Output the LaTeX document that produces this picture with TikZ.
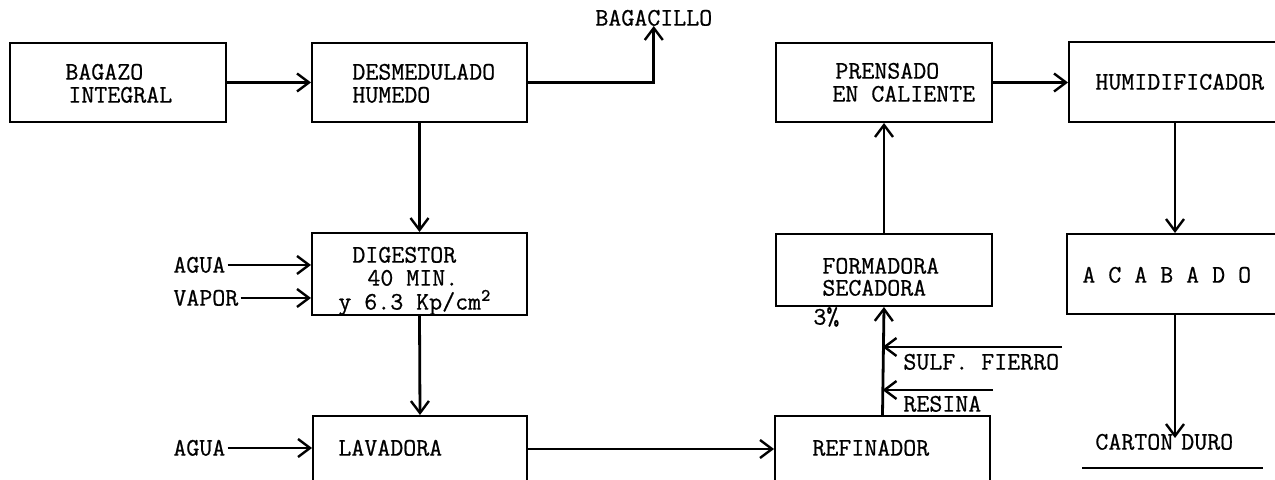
\documentclass[tikz,border=0pt]{standalone}
\usepackage{fontspec}
\newfontfamily\twfont{Latin Modern Mono}[FakeBold=0.7]
\usetikzlibrary{arrows.meta}
\begin{document}
\begin{tikzpicture}[x=0.5pt,y=-0.5pt,
  box/.style={draw,line width=1pt,inner sep=0pt},
  conn/.style={line width=1.4pt,-{Straight Barb[length=6pt,width=9pt,line width=1.2pt]}},
  plain/.style={line width=1.4pt},
  txt/.style={inner sep=0pt,anchor=west,text height=7.6pt,text depth=0pt,
    font=\fontsize{12.6}{14}\selectfont\twfont}]
\useasboundingbox (0,0) rectangle (1275,480);
\clip (0,0) rectangle (1275,480);
% boxes
\node[box,minimum width=108pt,minimum height=39.5pt] (bag) at (118,82.5) {};
\node[box,minimum width=107.5pt,minimum height=39.5pt] (des) at (419.5,82.5) {};
\node[box,minimum width=108pt,minimum height=39.5pt] (pre) at (884,82.5) {};
\node[box,minimum width=115.5pt,minimum height=40pt] (hum) at (1184.5,82.5) {};
\node[box,minimum width=107.5pt,minimum height=41pt] (dig) at (419.5,274) {};
\node[box,minimum width=108pt,minimum height=36pt] (for) at (884,270) {};
\node[box,minimum width=116.5pt,minimum height=40pt] (aca) at (1183.5,274) {};
\node[box,minimum width=107pt,minimum height=42pt] (lav) at (420,458) {};
\node[box,minimum width=107.5pt,minimum height=42pt] (ref) at (882.5,458) {};
% texts
\node[txt] (bagt1) at (65,72) {BAGAZO};
\node[txt] (bagt2) at (68,95) {INTEGRAL};
\node[txt] (dest1) at (352,72) {DESMEDULADO};
\node[txt] (dest2) at (352,95) {HUMEDO};
\node[txt] (bgc) at (595,18) {BAGACILLO};
\node[txt] (pret1) at (835,71) {PRENSADO};
\node[txt] (pret2) at (832,94) {EN CALIENTE};
\node[txt] (humt) at (1095,82) {HUMIDIFICADOR};
\node[txt] (digt1) at (352,255) {DIGESTOR};
\node[txt] (digt2) at (367,278) {40 MIN.};
\node[txt] (digt3) at (338,302) {y 6.3 Kp/cm\textsuperscript{2}};
\node[txt] (agua1) at (173,265) {AGUA};
\node[txt] (vapor) at (173,298) {VAPOR};
\node[txt] (fort1) at (822,266) {FORMADORA};
\node[txt] (fort2) at (822,288) {SECADORA};
\node[txt] (pct) at (813,317) {3\%};
\node[txt] (acat) at (1082,275) {A C A B A D O};
\node[txt] (sulf) at (903,362) {SULF. FIERRO};
\node[txt] (resi) at (903,404) {RESINA};
\node[txt] (agua2) at (173,448) {AGUA};
\node[txt] (lavt) at (338,448) {LAVADORA};
\node[txt] (reft) at (812,448) {REFINADOR};
\node[txt] (cart) at (1095,442) {CARTON\hspace{4pt}DURO};
% coordinates
\coordinate (hx) at (1175,0);
\coordinate (s1) at (1062,347);
\coordinate (r1) at (993,390);
\coordinate (ul1) at (1082,468);
\coordinate (ul2) at (1263,468);
% connectors
\draw[conn] (bag.east) -- (des.west);
\draw[conn] (des.east) -| (bgc.south);
\draw[conn] (pre.east) -- (hum.west);
\draw[conn] (des.south) -- (dig.north);
\draw[conn] (dig.south) -- (lav.north);
\draw[conn] ([xshift=1pt]agua1.east) -- (dig.west |- agua1);
\draw[conn] ([xshift=1pt]vapor.east) -- (dig.west |- vapor);
\draw[conn] ([xshift=1pt]agua2.east) -- (lav.west |- agua2);
\draw[conn] (lav.east |- 0,449) -- (ref.west |- 0,449);
\draw[conn] (ref.north) -- (for.south);
\draw[conn] (for.north) -- (pre.south);
\draw[conn] (s1) -- (s1 -| ref.north);
\draw[conn] (r1) -- (r1 -| ref.north);
\draw[conn] (hum.south -| hx) -- (aca.north -| hx);
\draw[conn] (aca.south -| hx) -- ([yshift=-2pt]cart.north -| hx);
\draw[plain] (ul1) -- (ul2);
\end{tikzpicture}
\end{document}
